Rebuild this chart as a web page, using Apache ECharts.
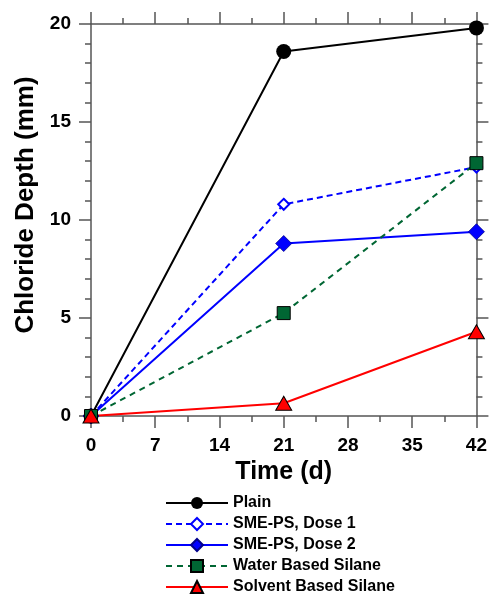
<!DOCTYPE html>
<html><head><meta charset="utf-8">
<script src="https://cdn.jsdelivr.net/npm/echarts@6/dist/echarts.min.js"></script>
<style>html,body{margin:0;padding:0;background:#fff}#c{width:490px;height:594px}</style>
</head><body><div id="c"></div>
<script>
const times = [0, 21, 42];
const plain = [0, 18.6, 19.8];
const smeDose1 = [0, 10.8, 12.7];
const smeDose2 = [0, 8.8, 9.4];
const waterSilane = [0, 5.25, 12.9];
const solventSilane = [0, 0.65, 4.3];
const xTicks = [0, 7, 14, 21, 28, 35, 42];
const yTicks = [0, 5, 10, 15, 20];

const font = 'Arial, "Liberation Sans", sans-serif';
const axisCol = '#555';
function pairs(v){ return times.map((t,i)=>[t, v[i]]); }

const chart = echarts.init(document.getElementById('c'));
const tickStyle = {show:true, length:12, lineStyle:{color:axisCol, width:1.5}};
const minorStyle = {show:true, length:6, lineStyle:{color:axisCol, width:1.5}};
const baseX = {type:'value', min:0, max:42, interval:7,
  axisLine:{show:true, onZero:false, lineStyle:{color:axisCol, width:1.5}},
  axisTick:tickStyle, minorTick:Object.assign({splitNumber:2}, minorStyle),
  splitLine:{show:false}, minorSplitLine:{show:false}};
const baseY = {type:'value', min:0, max:20, interval:5,
  axisLine:{show:true, onZero:false, lineStyle:{color:axisCol, width:1.5}},
  axisTick:tickStyle, minorTick:Object.assign({splitNumber:5}, minorStyle),
  splitLine:{show:false}, minorSplitLine:{show:false}};

chart.setOption({
  animation:false,
  grid:{left:91, right:12, top:24, bottom:178},
  graphic:[{type:'text', x:13, y:205, rotation:Math.PI/2,
    style:{text:'Chloride Depth (mm)', font:'bold 26px ' + font, fill:'#000',
      textAlign:'center', textVerticalAlign:'top'}}],
  xAxis:[
    Object.assign({}, baseX, {position:'bottom', name:'Time (d)', nameLocation:'middle', nameGap:44,
      nameTextStyle:{fontFamily:font, fontWeight:'bold', fontSize:25, color:'#000'},
      axisLabel:{show:true, margin:20, fontFamily:font, fontWeight:'bold', fontSize:19, color:'#000',
        formatter:v=> xTicks.includes(v) ? String(v) : ''}}),
    Object.assign({}, baseX, {position:'top', axisLabel:{show:false}})
  ],
  yAxis:[
    Object.assign({}, baseY, {position:'left',
      axisLabel:{show:true, margin:20, fontFamily:font, fontWeight:'bold', fontSize:19, color:'#000',
        formatter:v=> yTicks.includes(v) ? String(v) : ''}}),
    Object.assign({}, baseY, {position:'right', axisLabel:{show:false}})
  ],
  legend:{orient:'vertical', left:160, top:490, height:110, itemWidth:62, itemHeight:15, itemGap:5,
    textStyle:{fontFamily:font, fontWeight:'bold', fontSize:16, color:'#000'},
    data:['Plain','SME-PS, Dose 1','SME-PS, Dose 2','Water Based Silane','Solvent Based Silane']},
  series:[
    {name:'Plain', type:'line', data:pairs(plain), symbol:'circle', symbolSize:15,
      itemStyle:{color:'#000'}, lineStyle:{color:'#000', width:2}},
    {name:'SME-PS, Dose 1', type:'line', data:pairs(smeDose1), symbol:'diamond', symbolSize:11,
      itemStyle:{color:'#fff', borderColor:'#0000ff', borderWidth:2},
      lineStyle:{color:'#0000ff', width:2, type:[6,4]}},
    {name:'SME-PS, Dose 2', type:'line', data:pairs(smeDose2), symbol:'diamond', symbolSize:16,
      itemStyle:{color:'#0000ff', borderColor:'#00008b', borderWidth:0.8},
      lineStyle:{color:'#0000ff', width:2}},
    {name:'Water Based Silane', type:'line', data:pairs(waterSilane), symbol:'rect', symbolSize:13,
      itemStyle:{color:'#006633', borderColor:'#000', borderWidth:1},
      lineStyle:{color:'#006633', width:2, type:[6,5]}},
    {name:'Solvent Based Silane', type:'line', data:pairs(solventSilane), symbol:'triangle', symbolSize:[16,14],
      itemStyle:{color:'#ff0000', borderColor:'#000', borderWidth:1},
      lineStyle:{color:'#ff0000', width:2}}
  ]
});
</script></body></html>
